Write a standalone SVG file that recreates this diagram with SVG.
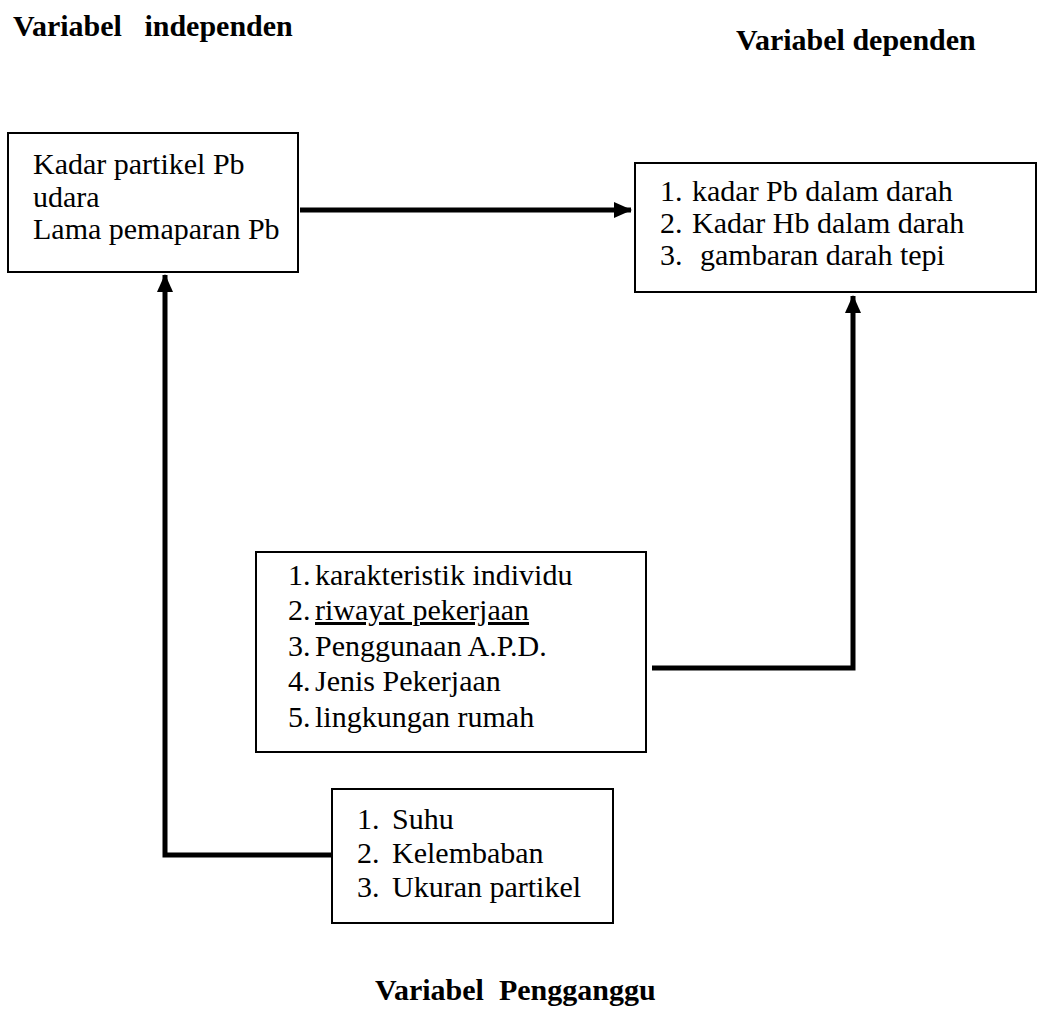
<svg xmlns="http://www.w3.org/2000/svg" width="1039" height="1017" viewBox="0 0 1039 1017">
<style>
.box{fill:#fff;stroke:#000;stroke-width:2}
.t{font-family:"Liberation Serif","Times New Roman",serif;font-size:30px;fill:#000}
.title{font-family:"Liberation Serif","Times New Roman",serif;font-size:30px;font-weight:bold;fill:#000;white-space:pre}
.conn{fill:none;stroke:#000;stroke-width:5}
</style>
<defs>
<marker id="ah" markerUnits="userSpaceOnUse" markerWidth="18" markerHeight="18" viewBox="0 0 18 18" refX="17" refY="9" orient="auto">
<path d="M0,1 L18,9 L0,17 Z" fill="#000"/>
</marker>
</defs>
<rect width="1039" height="1017" fill="#fff"/>
<g id="titles">
<text class="title" x="13" y="36" xml:space="preserve">Variabel   independen</text>
<text class="title" x="736" y="50">Variabel dependen</text>
<text class="title" x="375" y="1000" xml:space="preserve">Variabel  Pengganggu</text>
</g>
<g id="connectors">
<path class="conn" d="M300,210 L631,210" marker-end="url(#ah)"/>
<path class="conn" d="M332,855 L165,855 L165,275" marker-end="url(#ah)"/>
<path class="conn" d="M652,668 L853,668 L853,296" marker-end="url(#ah)"/>
</g>
<g id="node-independen">
<rect class="box" x="8" y="133" width="290" height="139"/>
<text class="t" x="33" y="174">Kadar partikel Pb</text>
<text class="t" x="33" y="207">udara</text>
<text class="t" x="33" y="239">Lama pemaparan Pb</text>
</g>
<g id="node-dependen">
<rect class="box" x="635" y="163" width="401" height="129"/>
<text class="t" x="660" y="201">1.</text><text class="t" x="692" y="201">kadar Pb dalam darah</text>
<text class="t" x="660" y="233">2.</text><text class="t" x="692" y="233">Kadar Hb dalam darah</text>
<text class="t" x="660" y="265">3.</text><text class="t" x="700" y="265">gambaran  darah tepi</text>
</g>
<g id="node-individu">
<rect class="box" x="256" y="552" width="390" height="200"/>
<text class="t" x="288" y="585">1.</text><text class="t" x="315" y="585">karakteristik individu</text>
<text class="t" x="288" y="620">2.</text><text class="t" x="315" y="620" text-decoration="underline">riwayat pekerjaan</text>
<text class="t" x="288" y="656">3.</text><text class="t" x="315" y="656">Penggunaan A.P.D.</text>
<text class="t" x="288" y="691">4.</text><text class="t" x="315" y="691">Jenis Pekerjaan</text>
<text class="t" x="288" y="727">5.</text><text class="t" x="315" y="727">lingkungan rumah</text>
</g>
<g id="node-pengganggu">
<rect class="box" x="332" y="789" width="281" height="134"/>
<text class="t" x="357" y="829">1.</text><text class="t" x="392" y="829">Suhu</text>
<text class="t" x="357" y="863">2.</text><text class="t" x="392" y="863">Kelembaban</text>
<text class="t" x="357" y="897">3.</text><text class="t" x="392" y="897">Ukuran partikel</text>
</g>
</svg>
